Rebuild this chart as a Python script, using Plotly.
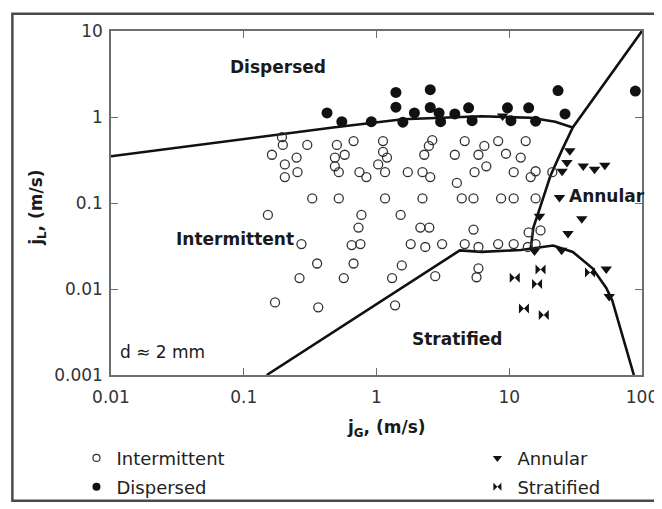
import plotly.graph_objects as go

# ---------------- data ----------------
int_jG = [0.197, 0.301, 0.503, 0.672, 1.12, 2.48, 2.63, 4.62, 6.49, 8.25, 13.3, 0.194,
          0.163, 0.25, 0.486, 0.576, 1.12, 1.2, 2.29, 3.89, 5.86, 9.45, 12.2,
          0.204, 1.03, 0.486, 6.72,
          0.254, 0.52, 0.744, 1.16, 1.72, 2.22, 5.48, 10.8, 15.8, 21.1,
          0.204, 0.839, 2.54, 14.5, 4.03,
          0.328, 0.52, 1.16, 2.22, 4.39, 5.38, 8.68, 10.8, 15.8,
          0.152, 0.77, 1.52,
          0.732, 2.14, 2.50, 5.38, 14.0, 17.2,
          0.272, 0.65, 0.757, 1.81, 2.33, 3.12, 4.62, 5.86, 8.25, 10.8, 13.8, 15.8,
          0.357, 0.672, 1.55, 5.86,
          0.263, 0.567, 1.31, 2.77, 5.67,
          0.172, 0.364, 1.38]
int_jL = [0.473, 0.473, 0.473, 0.525, 0.525, 0.461, 0.538, 0.525, 0.461, 0.525, 0.525, 0.582,
          0.364, 0.337, 0.337, 0.364, 0.394, 0.337, 0.364, 0.364, 0.364, 0.374, 0.337,
          0.281, 0.281, 0.267, 0.267,
          0.228, 0.228, 0.228, 0.228, 0.228, 0.228, 0.228, 0.228, 0.234, 0.228,
          0.2, 0.2, 0.2, 0.2, 0.171,
          0.113, 0.113, 0.113, 0.113, 0.113, 0.113, 0.113, 0.113, 0.113,
          0.0726, 0.0726, 0.0726,
          0.0518, 0.0518, 0.0518, 0.0491, 0.0455, 0.048,
          0.0333, 0.0324, 0.0333, 0.0333, 0.0308, 0.0333, 0.0333, 0.0308, 0.0333, 0.0333, 0.0308, 0.0333,
          0.0198, 0.0198, 0.0188, 0.0174,
          0.0134, 0.0134, 0.0134, 0.0141, 0.0137,
          0.00698, 0.00613, 0.00646]

disp_jG = [0.424, 0.548, 0.914, 1.40, 1.40, 1.58, 1.93, 2.54, 2.54, 2.96, 3.04, 3.89,
           4.94, 5.25, 9.7, 10.3, 14.0, 15.8, 23.3, 26.3, 89.1]
disp_jL = [1.116, 0.883, 0.883, 1.93, 1.30, 0.871, 1.116, 2.08, 1.29, 1.116, 0.883, 1.087,
           1.28, 0.906, 1.28, 0.906, 1.28, 0.894, 2.03, 1.087, 2.0]

ann_jG = [28.6, 27.2, 25.0, 36.1, 43.9, 52.5, 23.9, 16.9, 35.2, 27.7, 24.8, 53.8, 56.6, 15.5, 8.91]
ann_jL = [0.404, 0.296, 0.234, 0.269, 0.247, 0.274, 0.116, 0.0702, 0.0655, 0.0443, 0.0282,
          0.0171, 0.00816, 0.0277, 1.03]

strat_jG = [11.0, 17.2, 16.2, 12.9, 18.2, 40.6]
strat_jL = [0.0135, 0.0168, 0.01145, 0.00593, 0.00498, 0.0156]

# transition boundaries
b_disp_jG = [0.01, 0.47, 1.58, 6.17, 14.5, 22.2, 30.1]
b_disp_jL = [0.349, 0.755, 0.942, 1.02, 0.979, 0.883, 0.755]

b_ann_jG = [14.5, 15.2, 17.2, 20.4, 25.0, 30.1, 100]
b_ann_jL = [0.0292, 0.0518, 0.0918, 0.206, 0.415, 0.755, 10]

b_strat_jG = [0.149, 4.24, 6.17, 12.2, 21.4, 30.1, 42.4, 53.8, 59.7, 86.8]
b_strat_jL = [0.001, 0.0281, 0.027, 0.0284, 0.032, 0.027, 0.0174, 0.0103, 0.00736, 0.001]

x_tickvals = [0.01, 0.1, 1, 10, 100]
x_ticktext = ["0.01", "0.1", "1", "10", "100"]
y_tickvals = [0.001, 0.01, 0.1, 1, 10]
y_ticktext = ["0.001", "0.01", "0.1", "1", "10"]

# ---------------- figure ----------------
FONT = "DejaVu Sans"
INK = "#1a1a1a"
fig = go.Figure()

for bx, by in [(b_disp_jG, b_disp_jL), (b_ann_jG, b_ann_jL), (b_strat_jG, b_strat_jL)]:
    fig.add_trace(go.Scatter(x=bx, y=by, mode="lines", line=dict(color="#111", width=2.6),
                             showlegend=False, hoverinfo="skip"))

fig.add_trace(go.Scatter(x=int_jG, y=int_jL, mode="markers", showlegend=False,
                         marker=dict(symbol="circle-open", size=9, color="#333",
                                     line=dict(width=1.3, color="#333"))))
fig.add_trace(go.Scatter(x=disp_jG, y=disp_jL, mode="markers", showlegend=False,
                         marker=dict(symbol="circle", size=11, color="#111")))
fig.add_trace(go.Scatter(x=ann_jG, y=ann_jL, mode="markers", showlegend=False,
                         marker=dict(symbol="triangle-down", size=10, color="#111")))
fig.add_trace(go.Scatter(x=strat_jG, y=strat_jL, mode="markers", showlegend=False,
                         marker=dict(symbol="bowtie", size=10, color="#111")))

# legend entries (one legend per entry to reproduce the 2x2 layout)
leg_items = [
    ("Intermittent", dict(symbol="circle-open", size=7, color="#333", line=dict(width=1.2, color="#333")), "legend"),
    ("Dispersed", dict(symbol="circle", size=8, color="#111"), "legend2"),
    ("Annular", dict(symbol="triangle-down", size=8, color="#111"), "legend3"),
    ("Stratified", dict(symbol="bowtie", size=8, color="#111"), "legend4"),
]
for name, mk, lg in leg_items:
    fig.add_trace(go.Scatter(x=[None], y=[None], mode="markers", name=name, marker=mk,
                             legend=lg, showlegend=True))

legfont = dict(family=FONT, size=18, color="#222")
def leg(x, y):
    return dict(x=x, y=y, xanchor="left", yanchor="middle", bgcolor="rgba(0,0,0,0)",
                font=legfont, borderwidth=0, itemclick=False)

axis_common = dict(type="log", showgrid=False, zeroline=False, showline=True, mirror="ticks",
                   linecolor="#6e6e6e", linewidth=1.5, ticks="inside", ticklen=7,
                   tickcolor="#6e6e6e", tickwidth=1.2,
                   tickfont=dict(family=FONT, size=17, color="#333"))

fig.update_layout(
    width=662, height=509,
    margin=dict(l=103, r=19, t=23, b=132),
    paper_bgcolor="white", plot_bgcolor="white",
    xaxis=dict(range=[-2, 2], tickvals=x_tickvals, ticktext=x_ticktext,
               ticklabelstandoff=6, **axis_common),
    yaxis=dict(range=[-3, 1], tickvals=y_tickvals, ticktext=y_ticktext,
               ticklabelstandoff=3, **axis_common),
    legend=leg(-0.065, -0.242),
    legend2=leg(-0.065, -0.326),
    legend3=leg(0.69, -0.242),
    legend4=leg(0.69, -0.326),
    showlegend=True,
)

def px2paper_x(px):
    return (px - 103.3) / 540.0

def px2paper_y(py):
    return (377.3 - py) / 354.6

ann_bold = dict(family=FONT, size=17, color=INK)
labels = [
    ("<b>Dispersed</b>", 273, 60, "center"),
    ("<b>Intermittent</b>", 229, 237, "center"),
    ("<b>Annular</b>", 567, 193, "left"),
    ("<b>Stratified</b>", 455, 340, "center"),
]
for t, px, py, xa in labels:
    fig.add_annotation(text=t, x=px2paper_x(px), y=px2paper_y(py), xref="paper", yref="paper",
                       xanchor=xa, yanchor="middle", showarrow=False, font=ann_bold)

fig.add_annotation(text="d \u2248 2 mm", x=px2paper_x(110), y=px2paper_y(354), xref="paper",
                   yref="paper", xanchor="left", yanchor="middle", showarrow=False,
                   font=dict(family=FONT, size=17, color=INK))

# axis titles
fig.add_annotation(text="<b>j<sub>G</sub>, (m/s)</b>", x=px2paper_x(383), y=px2paper_y(432),
                   xref="paper", yref="paper", xanchor="center", yanchor="middle",
                   showarrow=False, font=dict(family=FONT, size=17, color=INK))
fig.add_annotation(text="<b>j<sub>L</sub>, (m/s)</b>", x=px2paper_x(29), y=px2paper_y(205),
                   xref="paper", yref="paper", xanchor="center", yanchor="middle",
                   textangle=-90, showarrow=False, font=dict(family=FONT, size=17, color=INK))

# outer frame
fig.add_shape(type="rect", xref="paper", yref="paper",
              x0=px2paper_x(3), x1=px2paper_x(660), y0=px2paper_y(507), y1=px2paper_y(5),
              line=dict(color="#4a4a4a", width=2.5), fillcolor="rgba(0,0,0,0)", layer="below")

fig.write_html("out.html")
